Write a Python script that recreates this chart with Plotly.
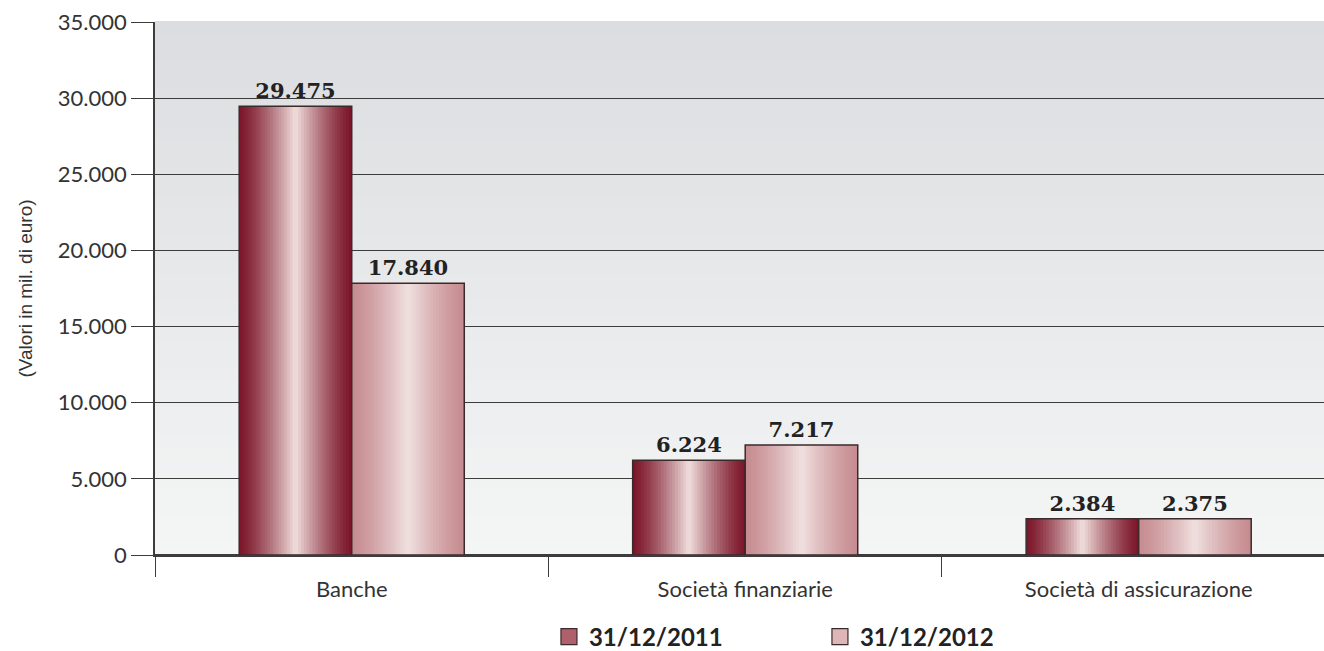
import plotly.graph_objects as go

categories = ["Banche", "Società finanziarie", "Società di assicurazione"]
series_names = ["31/12/2011", "31/12/2012"]
values_2011 = [29475, 6224, 2384]
values_2012 = [17840, 7217, 2375]

BAR_W = 0.286
N_SLICES = 40


def lerp(c1, c2, t):
    return tuple(round(a + (b - a) * t) for a, b in zip(c1, c2))


def rgb(c):
    return "rgb(%d,%d,%d)" % c


def gradient(edge, center, i, n):
    # cylindrical shading: dark at the edges, light in the middle
    pos = (i + 0.5) / n
    t = 1 - abs(pos - 0.5) * 2
    t = t ** 1.3
    return rgb(lerp(edge, center, t))


styles = [
    {"edge": (124, 22, 42), "center": (240, 222, 220), "legend": "rgb(176,96,106)"},
    {"edge": (198, 140, 144), "center": (240, 224, 224), "legend": "rgb(222,182,184)"},
]

fig = go.Figure()

for k, (name, vals) in enumerate(zip(series_names, [values_2011, values_2012])):
    base_off = -BAR_W if k == 0 else 0.0
    st = styles[k]
    sw = BAR_W / N_SLICES
    for i in range(N_SLICES):
        # slices overlap slightly so no seams show between them
        w = sw * 1.8 if i < N_SLICES - 1 else sw
        fig.add_trace(go.Bar(
            x=categories, y=vals, width=w, offset=base_off + i * sw,
            marker=dict(color=gradient(st["edge"], st["center"], i, N_SLICES), line=dict(width=0)),
            showlegend=False, hoverinfo="skip",
        ))
    # outline and value labels
    fig.add_trace(go.Bar(
        x=categories, y=vals, width=BAR_W, offset=base_off,
        marker=dict(color="rgba(0,0,0,0)", line=dict(color="#3a2a2c", width=1.5)),
        texttemplate="%{y:,}", textposition="outside",
        textfont=dict(family="DejaVu Serif", size=21, color="#222222", weight="bold"),
        cliponaxis=False, showlegend=False, name=name,
    ))
    # legend entry
    fig.add_trace(go.Scatter(
        x=[None], y=[None], name=name, mode="markers",
        marker=dict(symbol="square", size=22, color=st["legend"], line=dict(color="#3a2a2c", width=1.2)),
        showlegend=True,
    ))

# vertical gradient background of the plot area
n_bands = 40
top_c, bot_c = (220, 221, 224), (244, 245, 245)
for j in range(n_bands):
    t = j / (n_bands - 1)
    fig.add_shape(
        type="rect", xref="paper", yref="paper",
        x0=0, x1=1, y0=1 - (j + 1) / n_bands, y1=1 - j / n_bands + 0.002,
        fillcolor=rgb(lerp(top_c, bot_c, t)), line=dict(width=0), layer="below",
    )

fig.update_layout(
    width=1324, height=651,
    margin=dict(l=155, r=0, t=22, b=96, autoexpand=False),
    paper_bgcolor="white", plot_bgcolor="rgba(0,0,0,0)",
    barmode="overlay",
    separators=",.",
    font=dict(family="Lato", color="#333333"),
    legend=dict(
        orientation="h", x=0.337, xanchor="left",
        yref="container", y=0.0215, yanchor="middle",
        font=dict(family="Lato", size=24, color="#222222", weight="bold"),
        entrywidth=226, entrywidthmode="pixels", traceorder="normal",
        itemsizing="trace",
    ),
    showlegend=True,
)

fig.update_yaxes(
    range=[0, 35000], dtick=5000, tickformat=",d",
    showgrid=True, gridcolor="#3c3c3c", gridwidth=1.2,
    zeroline=True, zerolinecolor="#3c3c3c", zerolinewidth=1.5,
    ticks="outside", ticklen=22, tickcolor="#3c3c3c", tickwidth=1.2,
    showline=True, linecolor="#3c3c3c", linewidth=1.5,
    tickfont=dict(family="Lato", size=22, color="#333333"),
    title=dict(text="(Valori in mil. di euro)", font=dict(family="Liberation Sans", size=19, color="#333333"), standoff=20),
)

fig.update_xaxes(
    range=[-0.5, 2.471],
    tickson="boundaries", ticks="outside", ticklen=20, tickcolor="#3c3c3c", tickwidth=1.2,
    ticklabelstandoff=14,
    showline=True, linecolor="#3c3c3c", linewidth=1.5,
    tickfont=dict(family="Lato", size=22, color="#333333"),
    showgrid=False,
)

fig.write_html(
    "out.html",
    post_script="document.documentElement.style.overflow='hidden';document.body.style.overflow='hidden';",
)
